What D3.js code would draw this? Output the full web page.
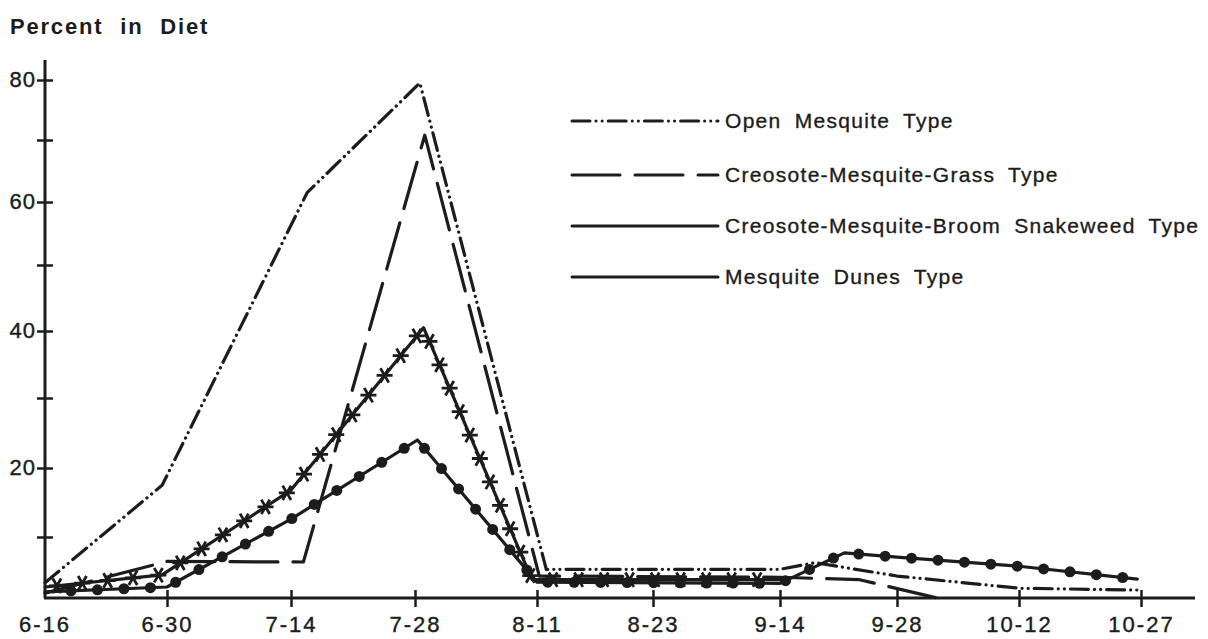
<!DOCTYPE html>
<html>
<head>
<meta charset="utf-8">
<script src="https://cdn.jsdelivr.net/npm/d3@7"></script>
<style>
  body { margin: 0; background: #fff; }
  svg { display: block; }
  text { font-family: "Liberation Sans", Arial, sans-serif; fill: #1c1c1c; }
</style>
</head>
<body>
<svg id="chart" width="1208" height="639"></svg>
<script>
// Sampling dates along the horizontal axis
const dateLabels = ["6-16", "6-30", "7-14", "7-28", "8-11", "8-23", "9-14", "9-28", "10-12", "10-27"];
// Vertical ticks (every 10%), labelled every 20%
const yTickValues = [0, 10, 20, 30, 40, 50, 60, 70, 80];
const yLabelValues = [20, 40, 60, 80];

// Positions are in date-index units (0 = 6-16 ... 9 = 10-27), values in percent of diet
const openPos = [0, 0.96, 2.13, 3.04, 4.08, 6.0, 6.3, 7.0, 8.0, 9.0];
const openVal = [2.5, 17.5, 61.5, 79.5, 4.7, 4.7, 5.8, 3.6, 1.6, 1.3];

const grassPos = [0, 1.0, 2.1, 3.08, 4.02, 6.0, 6.68, 7.33];
const grassVal = [0.8, 6.0, 5.9, 70.8, 3.6, 3.4, 3.0, 0];

const broomPos = [0, 0.96, 2.0, 3.07, 3.96, 6.0];
const broomVal = [1.8, 3.8, 16.8, 40.5, 3.0, 3.0];

const dunesPos = [0, 1.0, 2.0, 3.02, 4.0, 6.0, 6.55, 7.0, 8.0, 8.97];
const dunesVal = [1.0, 1.8, 12.6, 24.0, 2.6, 2.4, 7.4, 6.7, 5.2, 3.1];

const seriesNames = [
  "Open Mesquite Type",
  "Creosote-Mesquite-Grass Type",
  "Creosote-Mesquite-Broom Snakeweed Type",
  "Mesquite Dunes Type"
];

const ink = "#1c1c1c";
const svg = d3.select("#chart");

// Hand-drafted axes: tick spacing is slightly uneven, so map tick-by-tick
const x = d3.scaleLinear()
  .domain(d3.range(dateLabels.length))
  .range([45, 167, 291, 415, 537, 653, 780, 897, 1019, 1141]);
const y = d3.scaleLinear()
  .domain(yTickValues)
  .range([598, 537, 468, 398, 331, 265, 202, 140, 80]);

// Title
svg.append("text")
  .attr("x", 10).attr("y", 34)
  .attr("font-size", 22).attr("font-weight", "bold")
  .attr("letter-spacing", 1.8).attr("word-spacing", 9)
  .text("Percent in Diet");

// Axis lines
svg.append("line").attr("x1", x(0)).attr("x2", x(0)).attr("y1", 60).attr("y2", y(0))
  .attr("stroke", ink).attr("stroke-width", 3);
svg.append("line").attr("x1", x(0) - 1).attr("x2", 1195).attr("y1", y(0)).attr("y2", y(0))
  .attr("stroke", ink).attr("stroke-width", 3);

// Y axis ticks (crossing the axis line)
const yAxis = d3.axisLeft(y)
  .tickValues(yTickValues.filter(v => v > 0))
  .tickSize(8)
  .tickPadding(1)
  .tickFormat(v => yLabelValues.includes(v) ? v : "");
const gy = svg.append("g").attr("transform", `translate(${x(0)},0)`).call(yAxis);
gy.select(".domain").remove();
gy.selectAll(".tick line").attr("x1", 8).attr("stroke", ink).attr("stroke-width", 2.5);
gy.selectAll(".tick text")
  .attr("font-size", 22).attr("letter-spacing", 1)
  .attr("font-family", "Liberation Sans, Arial, sans-serif")
  .attr("fill", ink).attr("stroke", ink).attr("stroke-width", 0.4)
  .attr("dy", "0.3em");

// X axis ticks (crossing the axis line)
const xAxis = d3.axisBottom(x)
  .tickValues(d3.range(1, dateLabels.length))
  .tickSize(9)
  .tickPadding(9)
  .tickFormat(i => dateLabels[i]);
const gx = svg.append("g").attr("transform", `translate(0,${y(0)})`).call(xAxis);
gx.select(".domain").remove();
gx.selectAll(".tick line").attr("y1", -8).attr("stroke", ink).attr("stroke-width", 2.5);
gx.selectAll(".tick text")
  .attr("font-size", 22).attr("letter-spacing", 2)
  .attr("font-family", "Liberation Sans, Arial, sans-serif")
  .attr("fill", ink).attr("stroke", ink).attr("stroke-width", 0.4);
// first date label sits under the origin
gx.append("text")
  .attr("x", x(0)).attr("y", 18).attr("dy", "0.71em")
  .attr("text-anchor", "middle").attr("font-size", 22).attr("letter-spacing", 2)
  .attr("fill", ink).attr("stroke", ink).attr("stroke-width", 0.4)
  .text(dateLabels[0]);

// Line styles
const styles = [
  { dash: "18 6 0.1 6 0.1 6" },   // dash-dot-dot
  { dash: "48 15" },              // long dash
  { dash: null, marker: "star" }, // solid with asterisks
  { dash: null, marker: "dot" }   // solid with dots
];

const line = d3.line().x(d => x(d[0])).y(d => y(d[1]));
const seriesData = [
  d3.zip(openPos, openVal),
  d3.zip(grassPos, grassVal),
  d3.zip(broomPos, broomVal),
  d3.zip(dunesPos, dunesVal)
];

const plot = svg.append("g");
const paths = seriesData.map((pts, k) => plot.append("path")
  .datum(pts)
  .attr("d", line)
  .attr("fill", "none")
  .attr("stroke", ink)
  .attr("stroke-width", 3.2)
  .attr("stroke-linejoin", "round")
  .attr("stroke-linecap", "round")
  .attr("stroke-dasharray", styles[k].dash));

// Markers spaced evenly along a drawn line
function pointsAlong(pathNode, spacing, offset) {
  const L = pathNode.getTotalLength();
  const out = [];
  for (let s = offset; s <= L - 4; s += spacing) out.push(pathNode.getPointAtLength(s));
  return out;
}

const starShape = "M-8,0L8,0M-4.2,-7.2L4.2,7.2M-4.2,7.2L4.2,-7.2";
plot.append("g").selectAll("path")
  .data(pointsAlong(paths[2].node(), 25.5, 12))
  .join("path")
  .attr("transform", d => `translate(${d.x},${d.y})`)
  .attr("d", starShape)
  .attr("stroke", ink).attr("stroke-width", 2.8).attr("fill", "none");

plot.append("g").selectAll("circle")
  .data(pointsAlong(paths[3].node(), 26.5, 26))
  .join("circle")
  .attr("cx", d => d.x).attr("cy", d => d.y).attr("r", 5.5)
  .attr("fill", ink);

// Legend
const legendRows = [121, 175, 226, 277];
const legend = svg.append("g");
seriesNames.forEach((name, k) => {
  legend.append("line")
    .attr("x1", 572).attr("x2", 718)
    .attr("y1", legendRows[k]).attr("y2", legendRows[k])
    .attr("stroke", ink).attr("stroke-width", 3)
    .attr("stroke-linecap", "round")
    .attr("stroke-dasharray", styles[k].dash);
  legend.append("text")
    .attr("x", 725).attr("y", legendRows[k] + 7)
    .attr("font-size", 21).attr("letter-spacing", 1.3).attr("word-spacing", 6)
    .attr("stroke", ink).attr("stroke-width", 0.35)
    .text(name);
});
</script>
</body>
</html>
